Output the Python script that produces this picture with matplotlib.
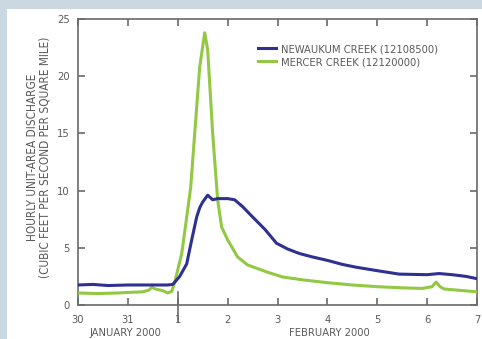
import matplotlib
matplotlib.use("Agg")
import matplotlib.pyplot as plt
from matplotlib.patches import Rectangle
import numpy as np

# Days since Jan 30, 2000 (0 = Jan 30, 2 = Feb 1, 8 = Feb 7)
newaukum_t = [0.0, 0.3, 0.6, 1.0, 1.4, 1.8, 1.9, 2.04, 2.18, 2.28, 2.38, 2.44, 2.5, 2.6,
              2.7, 2.8, 3.0, 3.14, 3.3, 3.5, 3.75, 3.98, 4.2, 4.44, 4.7, 5.0, 5.3,
              5.58, 6.0, 6.44, 7.0, 7.24, 7.5, 7.78, 8.0]
newaukum_q = [1.75, 1.8, 1.7, 1.75, 1.75, 1.75, 1.8, 2.5, 3.6, 5.7, 7.7, 8.5, 9.0, 9.6,
              9.2, 9.3, 9.3, 9.2, 8.6, 7.7, 6.6, 5.4, 4.9, 4.5, 4.2, 3.9, 3.55,
              3.3, 3.0, 2.7, 2.65, 2.75, 2.65, 2.5, 2.3]

mercer_t = [0.0, 0.4, 0.8, 1.0, 1.3, 1.42, 1.48, 1.55, 1.7, 1.8, 1.88, 1.94, 2.08, 2.18,
            2.26, 2.34, 2.44, 2.54, 2.6, 2.7, 2.8, 2.88, 3.0, 3.2, 3.4, 3.78, 4.1,
            4.5, 5.0, 5.5, 6.0, 6.5, 6.9, 7.1, 7.18, 7.26, 7.34, 7.6, 8.0]
mercer_q = [1.05, 1.0, 1.05, 1.1, 1.15, 1.3, 1.55, 1.4, 1.25, 1.05, 1.2, 2.0, 4.5, 7.7,
            10.3, 15.0, 20.8, 23.8, 22.3, 15.0, 9.2, 6.8, 5.7, 4.2, 3.5, 2.9, 2.45,
            2.2, 1.95, 1.75, 1.6, 1.5, 1.45, 1.6, 2.0, 1.6, 1.4, 1.3, 1.15]

xtick_pos = [0, 1, 2, 3, 4, 5, 6, 7, 8]
xtick_labels = ["30", "31", "1", "2", "3", "4", "5", "6", "7"]
ytick_pos = [0, 5, 10, 15, 20, 25]

plt.rcParams['font.family'] = ['DejaVu Sans']
plt.rcParams['font.stretch'] = 'condensed'
txt = '#5a5a5a'

W, H = 482, 339
fig = plt.figure(figsize=(W / 100, H / 100), dpi=100)
fig.patch.set_facecolor('#cbd8e2')
fig.patches.append(Rectangle((7 / W, 0), 1 - 7 / W, (H - 9) / H,
                             transform=fig.transFigure, facecolor='white',
                             edgecolor='none', zorder=-10))

left, right, top, bottom = 78, 477, 19, 305
ax = fig.add_axes([left / W, 1 - bottom / H, (right - left) / W, (bottom - top) / H])
ax.set_facecolor('white')
ax.set_zorder(5)

ax.plot(mercer_t, mercer_q, color='#92c843', lw=2.2, label='MERCER CREEK (12120000)',
        zorder=3, solid_joinstyle='round')
ax.plot(newaukum_t, newaukum_q, color='#2e3192', lw=2.2, label='NEWAUKUM CREEK (12108500)',
        zorder=4, solid_joinstyle='round')

ax.set_xlim(0, 8)
ax.set_ylim(0, 25)
ax.set_xticks(xtick_pos)
ax.set_xticklabels(xtick_labels)
ax.set_yticks(ytick_pos)
for s in ax.spines.values():
    s.set_color('#6a6a6a')
    s.set_linewidth(1.2)
ax.tick_params(axis='both', direction='in', length=5, width=1.2, color='#6a6a6a',
               top=True, right=True, labelsize=8, labelcolor=txt)
ax.tick_params(axis='x', pad=7)
ax.tick_params(axis='y', pad=6)

# month boundary tick
ax.plot([2, 2], [-17 / 11.44, 13 / 11.44], color='#6a6a6a', lw=1.2,
        clip_on=False, zorder=5)

ax.text(0.95, -0.08, 'JANUARY 2000', transform=ax.get_xaxis_transform(),
        ha='center', va='top', fontsize=8, color=txt)
ax.text(5.05, -0.08, 'FEBRUARY 2000', transform=ax.get_xaxis_transform(),
        ha='center', va='top', fontsize=8, color=txt)

fig.text(33 / W, 1 - 157 / H, 'HOURLY UNIT-AREA DISCHARGE', rotation=90,
         ha='center', va='center', fontsize=8.5, color=txt)
fig.text(45 / W, 1 - 157 / H, '(CUBIC FEET PER SECOND PER SQUARE MILE)', rotation=90,
         ha='center', va='center', fontsize=8.5, color=txt)

handles, labels = ax.get_legend_handles_labels()
leg = ax.legend(handles[::-1], labels[::-1], loc='upper left',
                bbox_to_anchor=((258 - left) / (right - left), 1 - (44 - top) / (bottom - top)),
                frameon=False, fontsize=8, handlelength=1.6, handletextpad=0.5,
                labelspacing=0.3, borderaxespad=0, borderpad=0)
for t in leg.get_texts():
    t.set_color(txt)

fig.savefig('out.png', dpi=100, facecolor=fig.get_facecolor())
